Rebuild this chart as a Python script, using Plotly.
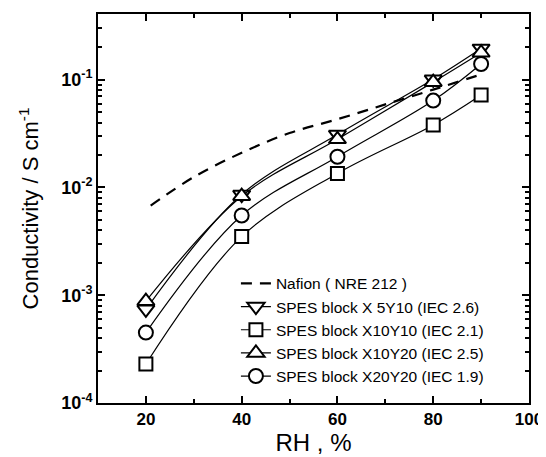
import plotly.graph_objects as go

rh = [20, 40, 60, 80, 90]
x5y10 = [7.4e-4, 8.6e-3, 0.031, 0.101, 0.195]
x10y10 = [2.3e-4, 3.5e-3, 0.0135, 0.038, 0.072]
x10y20 = [8.8e-4, 8.3e-3, 0.028, 0.095, 0.178]
x20y20 = [4.5e-4, 5.5e-3, 0.0193, 0.064, 0.140]

nafion_rh = [21, 30, 40, 50, 60, 70, 80, 90]
nafion = [0.0068, 0.0125, 0.021, 0.032, 0.043, 0.059, 0.081, 0.112]

y_major = [1e-4, 1e-3, 1e-2, 1e-1]
y_labels = ["10<sup>-4</sup>", "10<sup>-3</sup>", "10<sup>-2</sup>", "10<sup>-1</sup>"]
x_major = [20, 40, 60, 80, 100]
x_minor = [30, 50, 70, 90]

FONT = "Liberation Sans, Arial, sans-serif"

fig = go.Figure()
fig.add_trace(go.Scatter(x=nafion_rh, y=nafion, mode="lines", name="Nafion ( NRE 212 )",
                         line=dict(color="black", width=2.2, dash="11px,8px", shape="spline")))

series = [
    ("SPES block X 5Y10 (IEC 2.6)", x5y10, "triangle-down", 15),
    ("SPES block X10Y10 (IEC 2.1)", x10y10, "square", 13),
    ("SPES block X10Y20 (IEC 2.5)", x10y20, "triangle-up", 15),
    ("SPES block X20Y20 (IEC 1.9)", x20y20, "circle", 14),
]
for name, vals, sym, size in series:
    fig.add_trace(go.Scatter(
        x=rh, y=vals, mode="lines+markers", name=name,
        line=dict(color="black", width=1.2, shape="spline"),
        marker=dict(symbol=sym, size=size, color="white",
                    line=dict(color="black", width=2)),
    ))

minor_y = [m * 10 ** e for e in range(-4, 0) for m in range(2, 10) if m * 10 ** e < 0.41]

fig.update_layout(
    width=546, height=457,
    margin=dict(l=90, r=25, t=6, b=62),
    paper_bgcolor="white", plot_bgcolor="white",
    font=dict(family=FONT, color="black"),
    showlegend=True,
    legend=dict(x=0.32, y=0.35, xanchor="left", yanchor="top",
                bgcolor="rgba(0,0,0,0)", font=dict(size=15.5, family=FONT),
                tracegroupgap=0, itemwidth=30),
)
fig.update_xaxes(
    range=[10, 100], tickmode="array", tickvals=x_major,
    ticks="inside", ticklen=7, tickwidth=2, tickcolor="black",
    minor=dict(tickmode="array", tickvals=x_minor, ticks="inside", ticklen=4,
               tickwidth=2, tickcolor="black"),
    showline=True, linewidth=2, linecolor="black", mirror="allticks",
    showgrid=False, zeroline=False, automargin=False,
    tickfont=dict(size=17, family=FONT, weight="bold"),
    title=dict(text="RH , %", font=dict(size=24, family=FONT), standoff=3),
)
fig.update_yaxes(
    type="log", range=[-4, -0.39], tickmode="array", tickvals=y_major, ticktext=y_labels,
    ticks="inside", ticklen=7, tickwidth=2, tickcolor="black",
    minor=dict(tickmode="array", tickvals=minor_y, ticks="inside", ticklen=4,
               tickwidth=1.5, tickcolor="black"),
    showline=True, linewidth=2, linecolor="black", mirror="allticks",
    showgrid=False, zeroline=False, automargin=False,
    tickfont=dict(size=18, family=FONT, weight="bold"),
    title=dict(text="Conductivity / S cm<sup>-1</sup>", font=dict(size=22, family=FONT), standoff=16),
)

fig.write_html("out.html")
